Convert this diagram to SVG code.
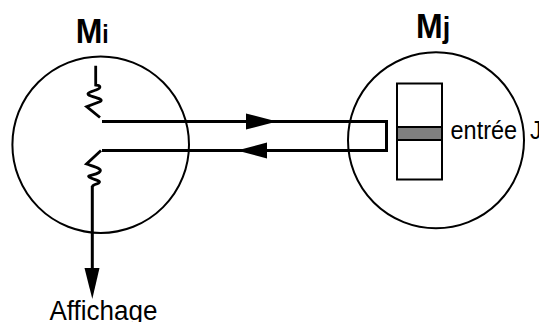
<svg xmlns="http://www.w3.org/2000/svg" width="539" height="322" viewBox="0 0 539 322">
<style>
.circ{fill:none;stroke:#000;stroke-width:2}
.wire{fill:none;stroke:#000;stroke-width:3;stroke-linejoin:miter;stroke-linecap:butt}
.spring{fill:none;stroke:#000;stroke-width:2.8;stroke-linejoin:miter}
.head{fill:#000;stroke:none}
.lbl{font-family:"Liberation Sans",Arial,sans-serif;font-weight:bold;fill:#000}
.txt{font-family:"Liberation Sans",Arial,sans-serif;fill:#000}
</style>
<rect width="539" height="322" fill="#fff"/>
<g id="node-mi">
<circle class="circ" cx="100.7" cy="144.7" r="88.3"/>
<text class="lbl" transform="translate(75.7,43) scale(1,1.1)" font-size="32">M<tspan font-size="23">i</tspan></text>
<path class="spring" d="M95.7,65.7 V85 C101,85.5 101.5,88 96,90 S84,93.5 91,96 S105,99.5 99,102 L86.7,106.7 L100,117.5"/>
<path class="spring" d="M101,150.5 L86.5,164 C95,167 104,169 99,172.5 S84,175 91,178 S104,181.5 95,184.5 Q92.3,185.5 92.3,187"/>
</g>
<g id="node-mj">
<circle class="circ" cx="436" cy="140.3" r="88"/>
<text class="lbl" transform="translate(416,38) scale(1,1.1)" font-size="32">M<tspan font-size="27">j</tspan></text>
<rect x="397" y="83.5" width="45" height="96" fill="#fff" stroke="#000" stroke-width="2"/>
<rect x="397" y="127" width="45" height="13" fill="#7f7f7f" stroke="#000" stroke-width="2"/>
<text class="txt" transform="translate(450.5,139) scale(1,1.07)" font-size="23.5">entrée</text>
<text class="txt" transform="translate(530,139) scale(1,1.07)" font-size="23.5">J</text>
</g>
<g id="node-affichage">
<text class="txt" transform="translate(49.5,320) scale(1,1.07)" font-size="26">Affichage</text>
</g>
<g id="connectors">
<path class="wire" d="M102,121.5 H386.5 V150.5 H102"/>
<polygon class="head" points="246,113.5 277,121.5 246,129.5"/>
<polygon class="head" points="267,142.5 237,150.5 267,158.5"/>
<line class="wire" x1="92.3" y1="186" x2="92.3" y2="270"/>
<polygon class="head" points="84.5,268 99.5,268 92.3,299"/>
</g>
</svg>
